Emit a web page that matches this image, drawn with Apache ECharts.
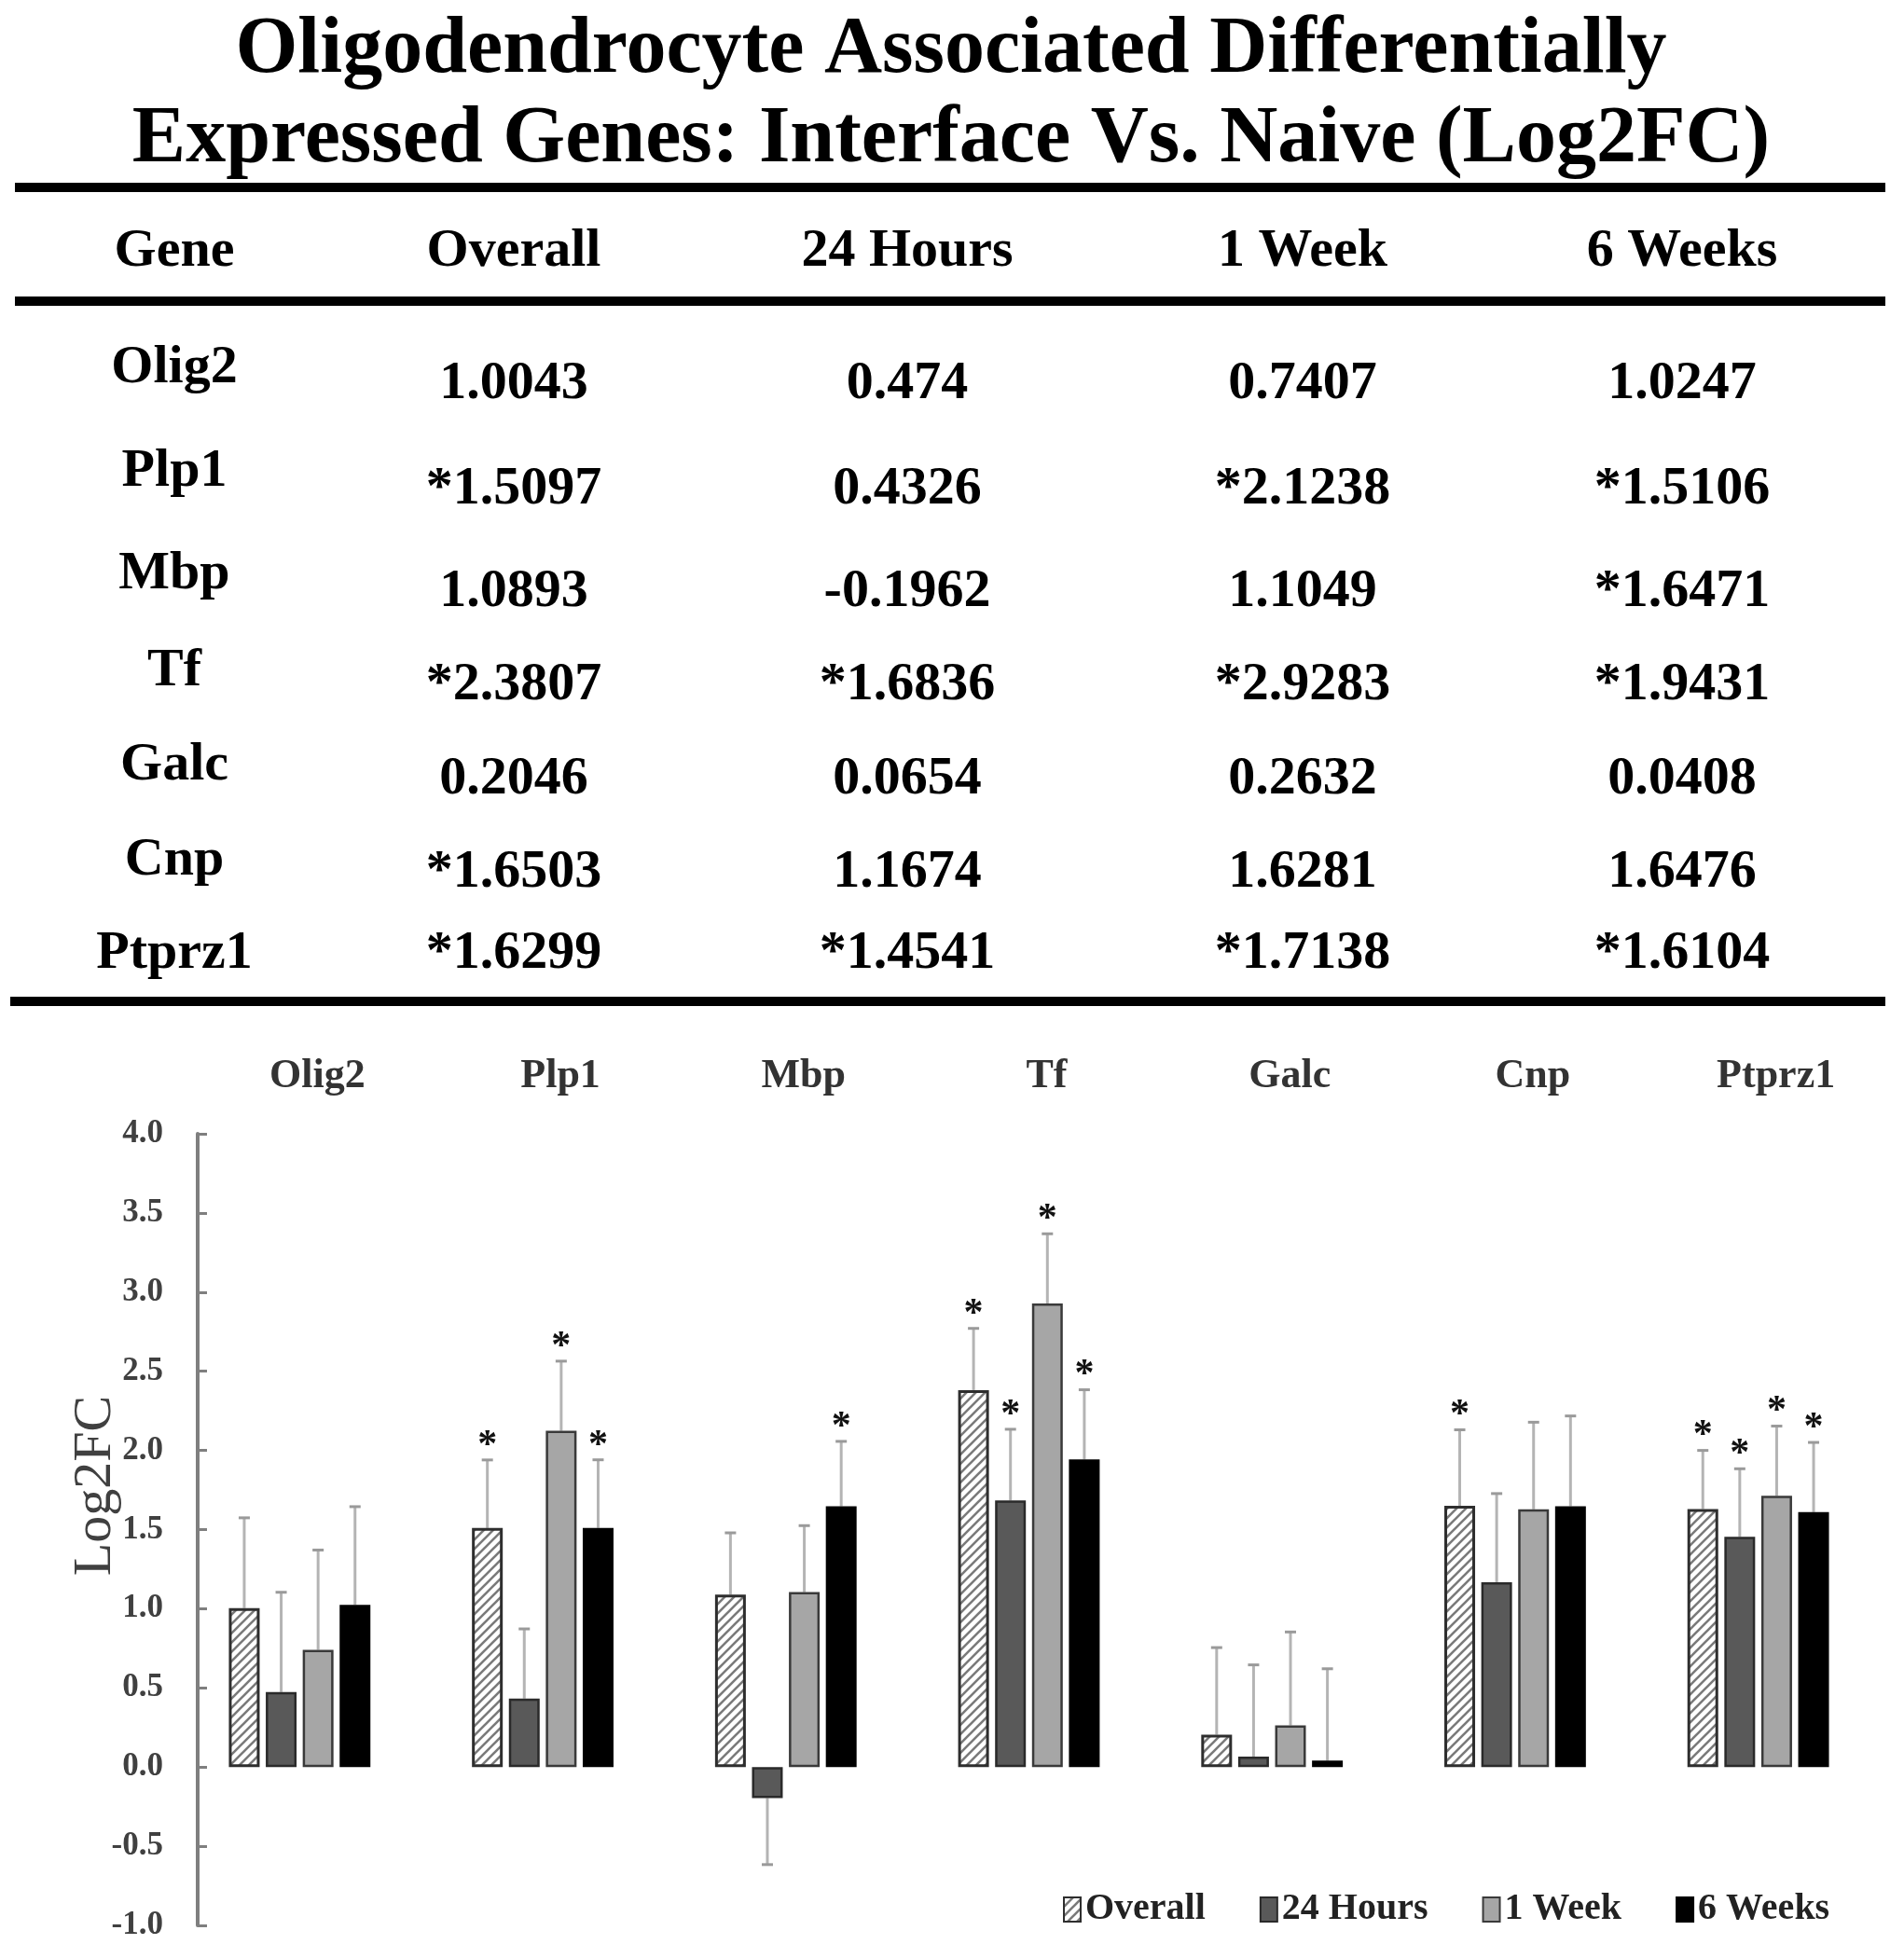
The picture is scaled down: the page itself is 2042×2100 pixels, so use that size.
<!DOCTYPE html>
<html><head><meta charset="utf-8">
<script src="https://cdn.jsdelivr.net/npm/echarts@6/dist/echarts.min.js"></script>
<style>html,body{margin:0;padding:0;background:#fff}#c{width:2042px;height:2100px}</style>
</head><body><div id="c"></div>
<script>
// ---------- data ----------
const titleLines = ['Oligodendrocyte Associated Differentially', 'Expressed Genes: Interface Vs. Naive (Log2FC)'];
const tableHeaders = ['Gene', 'Overall', '24 Hours', '1 Week', '6 Weeks'];
const genes = ['Olig2', 'Plp1', 'Mbp', 'Tf', 'Galc', 'Cnp', 'Ptprz1'];
const seriesNames = ['Overall', '24 Hours', '1 Week', '6 Weeks'];
const overall = [1.0043, 1.5097, 1.0893, 2.3807, 0.2046, 1.6503, 1.6299];
const hours24 = [0.474, 0.4326, -0.1962, 1.6836, 0.0654, 1.1674, 1.4541];
const week1 = [0.7407, 2.1238, 1.1049, 2.9283, 0.2632, 1.6281, 1.7138];
const weeks6 = [1.0247, 1.5106, 1.6471, 1.9431, 0.0408, 1.6476, 1.6104];
const sigOverall = [0, 1, 0, 1, 0, 1, 1];
const sig24h = [0, 0, 0, 1, 0, 0, 1];
const sig1wk = [0, 1, 0, 1, 0, 0, 1];
const sig6wk = [0, 1, 1, 1, 0, 0, 1];
const errOverall = [0.57, 0.43, 0.39, 0.39, 0.55, 0.48, 0.37];
const err24h = [0.63, 0.44, 0.42, 0.45, 0.58, 0.56, 0.43];
const err1wk = [0.63, 0.44, 0.42, 0.44, 0.59, 0.55, 0.44];
const err6wk = [0.62, 0.43, 0.41, 0.44, 0.58, 0.57, 0.44];
const yMin = -1.0, yMax = 4.0, yStep = 0.5;

// ---------- layout / style ----------
const SERIF = "'Liberation Serif','Times New Roman',serif";
const values = [overall, hours24, week1, weeks6];
const sigs = [sigOverall, sig24h, sig1wk, sig6wk];
const errs = [errOverall, err24h, err1wk, err6wk];
const BAR_W = 33, BAR_GAP = 0.2;
const pitch = BAR_W * (1 + BAR_GAP);
const offsets = [0, 1, 2, 3].map(i => (i - 1.5) * pitch);

// hatch pattern for "Overall"
const pc = document.createElement('canvas');
pc.width = 10; pc.height = 10;
const g = pc.getContext('2d');
g.fillStyle = '#ffffff'; g.fillRect(0, 0, 10, 10);
g.strokeStyle = '#7a7a7a'; g.lineWidth = 2.6;
g.beginPath();
g.moveTo(-2, 12); g.lineTo(12, -2);
g.moveTo(-7, 7); g.lineTo(7, -7);
g.moveTo(3, 17); g.lineTo(17, 3);
g.stroke();
const hatch = { image: pc, repeat: 'repeat' };

const barStyles = [
  { color: hatch, borderColor: '#2e2e2e', borderWidth: 3 },
  { color: '#595959', borderColor: '#2a2a2a', borderWidth: 2.5 },
  { color: '#a6a6a6', borderColor: '#3a3a3a', borderWidth: 2.5 },
  { color: '#000000', borderColor: '#000000', borderWidth: 2 }
];

// ---------- table graphics ----------
const colX = [187, 551, 973, 1397, 1804];
const geneRowY = [395, 506, 616, 720, 821, 923, 1023];
const valRowY = [412, 525, 635, 735, 836, 936, 1023];
const graphics = [];
function txt(text, x, y, size, weight) {
  graphics.push({
    type: 'text', x: x, y: y, silent: true,
    style: { text: text, font: (weight || 'bold') + ' ' + size + 'px ' + SERIF, fill: '#000',
      textAlign: 'center', textVerticalAlign: 'middle', align: 'center', verticalAlign: 'middle' }
  });
}
txt(titleLines[0], 1020, 55, 86);
txt(titleLines[1], 1020, 151, 86);
[[16, 196, 2006], [16, 318, 2006], [11, 1069, 2011]].forEach(r => {
  graphics.push({ type: 'rect', silent: true, shape: { x: r[0], y: r[1], width: r[2], height: 10 }, style: { fill: '#000' } });
});
tableHeaders.forEach((h, i) => txt(h, colX[i], 270, 58));
genes.forEach((gname, r) => {
  txt(gname, colX[0], geneRowY[r], 58);
  for (let c = 0; c < 4; c++) {
    txt((sigs[c][r] ? '*' : '') + String(values[c][r]), colX[c + 1], valRowY[r], 58);
  }
});

// ---------- series ----------
const series = [];
for (let s = 0; s < 4; s++) {
  series.push({
    name: seriesNames[s], type: 'bar', barWidth: BAR_W, barGap: (BAR_GAP * 100) + '%',
    itemStyle: barStyles[s], z: 3, data: values[s]
  });
}
for (let s = 0; s < 4; s++) {
  series.push({
    name: seriesNames[s] + ' error', type: 'custom', z: 2, silent: true,
    renderItem: function (params, api) {
      const idx = api.value(0), v = api.value(1), e = api.value(2), sg = api.value(3);
      const end = v >= 0 ? v + e : v - e;
      const p0 = api.coord([idx, v]);
      const p1 = api.coord([idx, end]);
      const x = p0[0] + offsets[s];
      const kids = [
        { type: 'line', shape: { x1: x, y1: p0[1], x2: x, y2: p1[1] }, style: { stroke: '#b4b4b4', lineWidth: 3 } },
        { type: 'line', shape: { x1: x - 6, y1: p1[1], x2: x + 6, y2: p1[1] }, style: { stroke: '#9a9a9a', lineWidth: 3 } }
      ];
      if (sg) {
        kids.push({ type: 'text', x: x, y: p1[1] - 15,
          style: { text: '*', font: 'bold 42px ' + SERIF, fill: '#111', textAlign: 'center', textVerticalAlign: 'middle', align: 'center', verticalAlign: 'middle' } });
      }
      return { type: 'group', children: kids };
    },
    data: genes.map((gn, i) => [i, values[s][i], errs[s][i], sigs[s][i]])
  });
}

const chart = echarts.init(document.getElementById('c'), null, { renderer: 'canvas' });
chart.setOption({
  animation: false,
  backgroundColor: '#ffffff',
  graphic: graphics,
  grid: { left: 191, right: 26, top: 1216, bottom: 35, containLabel: false },
  legend: {
    data: seriesNames, left: 1135, top: 2023, itemWidth: 18, itemHeight: 26, itemGap: 58,
    icon: 'rect',
    textStyle: { fontFamily: SERIF, fontWeight: 'bold', fontSize: 40, color: '#222' }
  },
  xAxis: {
    type: 'category', data: genes, position: 'top',
    axisLine: { show: false }, axisTick: { show: false }, splitLine: { show: false },
    axisLabel: { fontFamily: SERIF, fontWeight: 'bold', fontSize: 44, color: '#333', margin: 39, padding: [0, 0, 0, 38] }
  },
  yAxis: {
    type: 'value', min: yMin, max: yMax, interval: yStep, offset: -21,
    axisLine: { show: true, lineStyle: { color: '#7f7f7f', width: 4 } },
    axisTick: { show: true, inside: true, length: 10, lineStyle: { color: '#7f7f7f', width: 3 } },
    splitLine: { show: false },
    axisLabel: { formatter: v => v.toFixed(1), fontFamily: SERIF, fontWeight: 'bold', fontSize: 35, color: '#404040', margin: 37 },
    name: 'Log2FC', nameLocation: 'middle', nameRotate: 90, nameGap: 80, nameMoveOverlap: false,
    nameTextStyle: { fontFamily: SERIF, fontSize: 58, color: '#404040', padding: [0, 0, 0, 94] }
  },
  series: series
});
</script>
</body></html>
